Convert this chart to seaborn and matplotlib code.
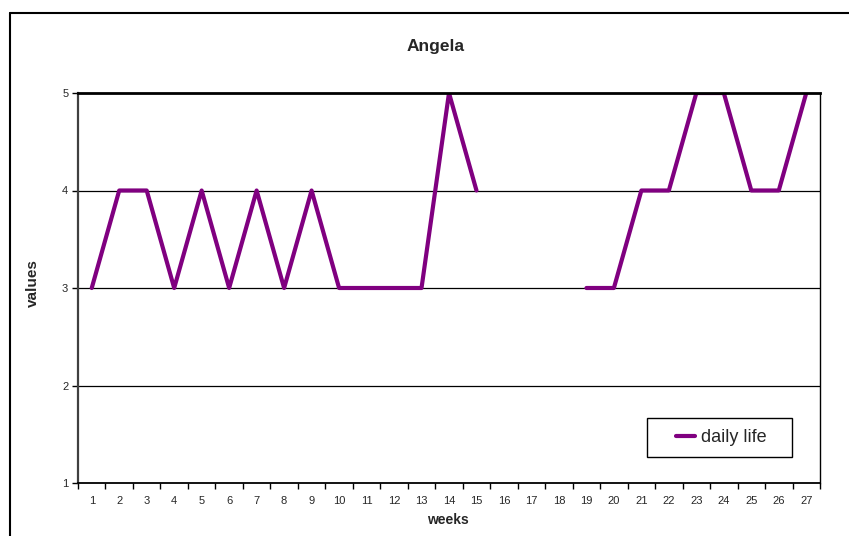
import numpy as np
import pandas as pd
import seaborn as sns
import matplotlib
matplotlib.use("Agg")
import matplotlib.pyplot as plt
from matplotlib.lines import Line2D
from matplotlib.patches import Rectangle

weeks = list(range(1, 28))
values = [3, 4, 4, 3, 4, 3, 4, 3, 4, 3, 3, 3, 3, 5, 4,
          np.nan, np.nan, np.nan,
          3, 3, 4, 4, 5, 5, 4, 4, 5]
series_name = "daily life"
title = "Angela"
x_label = "weeks"
y_label = "values"
y_ticks = [1, 2, 3, 4, 5]

sns.set_theme(style="white")
plt.rcParams['font.family'] = ['Liberation Sans', 'DejaVu Sans']

df = pd.DataFrame({"week": weeks, "value": values})
df["segment"] = df["value"].isna().cumsum()
df = df.dropna()

fig = plt.figure(figsize=(8.49, 5.36), dpi=100)
ax = fig.add_axes([78/849, 53/536, 742/849, 390/536])

purple = "#800080"
sns.lineplot(data=df, x="week", y="value", units="segment", estimator=None,
             color=purple, lw=3, ax=ax, legend=False)

ax.set_xlim(0.5, 27.5)
ax.set_ylim(1, 5)
ax.set_yticks(y_ticks)
ax.set_yticklabels([str(v) for v in y_ticks], fontsize=8)
ax.set_xticks(np.arange(0.5, 28, 1))
ax.set_xticklabels([])
ax.set_xticks(weeks, minor=True)
ax.set_xticklabels([str(w) for w in weeks], minor=True, fontsize=8)
ax.tick_params(axis="x", which="major", length=4, width=1, color="black", direction="out", bottom=True)
ax.tick_params(axis="x", which="minor", length=0, pad=9)
ax.tick_params(axis="y", length=4, width=1, color="black", direction="out", left=True, pad=3)

for yv in [2, 3, 4]:
    ax.axhline(yv, color="black", lw=0.9, zorder=0)

ax.set_xlabel("")
ax.set_ylabel("")
for s in ["top", "right", "bottom", "left"]:
    ax.spines[s].set_visible(True)
ax.spines["top"].set_color("black")
ax.spines["top"].set_linewidth(2)
ax.spines["right"].set_color("black")
ax.spines["right"].set_linewidth(1)
ax.spines["bottom"].set_color("black")
ax.spines["bottom"].set_linewidth(1.3)
ax.spines["left"].set_color("#404040")
ax.spines["left"].set_linewidth(1.6)

# legend box
ax.add_patch(Rectangle(((647-78)/742, (483-457)/390), 145/742, 39/390,
                       transform=ax.transAxes, facecolor="white",
                       edgecolor="black", lw=1, zorder=4))
handle = Line2D([0], [0], color=purple, lw=3)
leg = ax.legend([handle], [series_name], loc="center",
                bbox_to_anchor=(0.8666, 0.1167), fontsize=13,
                frameon=False, handlelength=1.1,
                handletextpad=0.3, borderpad=0, borderaxespad=0)
leg.set_zorder(5)

fig.text(436/849, 1 - 46/536, title, ha="center", va="center", fontsize=12.5, fontweight="bold")
fig.text(448/849, 1 - 520/536, x_label, ha="center", va="center", fontsize=10, fontweight="bold")
fig.text(33/849, 1 - 283/536, y_label, ha="center", va="center", rotation=90, fontsize=11, fontweight="bold")

# outer chart frame
fig.add_artist(Line2D([10/849, 10/849], [0, 1 - 13/536], color="black", lw=1.5, transform=fig.transFigure))
fig.add_artist(Line2D([10/849, 1], [1 - 13/536, 1 - 13/536], color="black", lw=1.5, transform=fig.transFigure))

fig.savefig("out.png", dpi=100)
